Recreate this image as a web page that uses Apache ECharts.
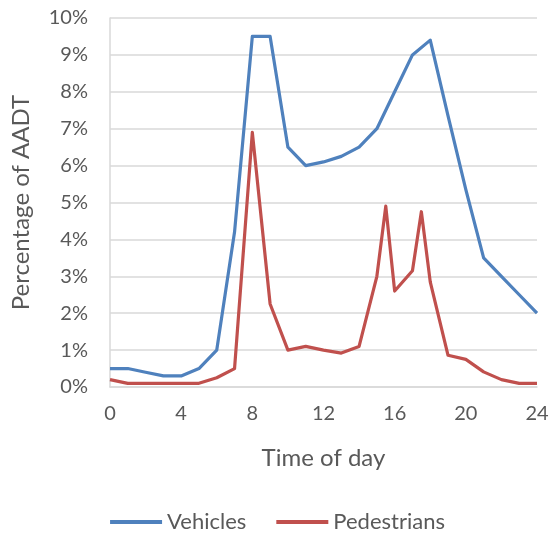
<!DOCTYPE html>
<html>
<head>
<meta charset="utf-8">
<script src="https://cdn.jsdelivr.net/npm/echarts@6/dist/echarts.min.js"></script>
<style>
  html, body { margin: 0; padding: 0; background: #fff; }
  #chart { width: 555px; height: 540px; }
</style>
</head>
<body>
<div id="chart"></div>
<script>
// Hourly share of annual average daily traffic (percent)
const vehicleHours = [0, 1, 2, 3, 4, 5, 6, 7, 8, 9, 10, 11, 12, 13, 14, 15, 16, 17, 18, 19, 20, 21, 22, 23, 24];
const vehicleShare = [0.5, 0.5, 0.4, 0.3, 0.3, 0.5, 1.0, 4.2, 9.5, 9.5, 6.5, 6.0, 6.1, 6.25, 6.5, 7.0, 8.0, 9.0, 9.4, 7.35, 5.35, 3.5, 3.0, 2.5, 2.0];

const pedestrianHours = [0, 1, 2, 3, 4, 5, 6, 7, 8, 9, 10, 11, 12, 13, 14, 15, 15.5, 16, 17, 17.5, 18, 19, 20, 21, 22, 23, 24];
const pedestrianShare = [0.2, 0.1, 0.1, 0.1, 0.1, 0.1, 0.25, 0.5, 6.9, 2.25, 1.0, 1.1, 1.0, 0.92, 1.1, 3.0, 4.9, 2.6, 3.15, 4.75, 2.85, 0.86, 0.75, 0.41, 0.2, 0.1, 0.1];

const xTicks = [0, 4, 8, 12, 16, 20, 24];

const pairs = (xs, ys) => xs.map((x, i) => [x, ys[i]]);

const font = 'Lato, "Liberation Sans", sans-serif';
const textColor = '#595959';
const gridColor = '#D9D9D9';

const chart = echarts.init(document.getElementById('chart'), null, { renderer: 'canvas' });
chart.setOption({
  animation: false,
  backgroundColor: '#ffffff',
  grid: { left: 110, right: 18, top: 18, bottom: 153, containLabel: false },
  legend: {
    bottom: 2,
    left: 'center',
    itemWidth: 52,
    itemHeight: 4,
    itemGap: 30,
    icon: 'rect',
    textStyle: { fontFamily: font, fontSize: 22, color: textColor },
    data: ['Vehicles', 'Pedestrians']
  },
  xAxis: {
    type: 'value',
    min: 0,
    max: 24,
    interval: 4,
    name: 'Time of day',
    nameLocation: 'middle',
    nameGap: 59,
    nameTextStyle: { fontFamily: font, fontSize: 24, color: textColor },
    axisLine: { show: true, onZero: false, lineStyle: { color: gridColor, width: 1.5 } },
    axisTick: { show: false },
    splitLine: { show: false },
    axisLabel: {
      fontFamily: font, fontSize: 20, color: textColor, margin: 17,
      customValues: xTicks
    }
  },
  yAxis: {
    type: 'value',
    min: 0,
    max: 10,
    interval: 1,
    name: 'Percentage of AADT',
    nameLocation: 'middle',
    nameGap: 77,
    nameTextStyle: { fontFamily: font, fontSize: 24, color: textColor },
    axisLine: { show: true, lineStyle: { color: gridColor, width: 1.5 } },
    axisTick: { show: false },
    splitLine: { show: true, lineStyle: { color: gridColor, width: 1.5 } },
    axisLabel: {
      fontFamily: font, fontSize: 20, color: textColor, margin: 22,
      formatter: '{value}%'
    }
  },
  series: [
    {
      name: 'Vehicles',
      type: 'line',
      data: pairs(vehicleHours, vehicleShare),
      showSymbol: false,
      symbol: 'none',
      itemStyle: { color: '#4F81BD' },
      lineStyle: { color: '#4F81BD', width: 3.2, join: 'round' }
    },
    {
      name: 'Pedestrians',
      type: 'line',
      data: pairs(pedestrianHours, pedestrianShare),
      showSymbol: false,
      symbol: 'none',
      itemStyle: { color: '#C0504D' },
      lineStyle: { color: '#C0504D', width: 3.2, join: 'round' }
    }
  ]
});
</script>
</body>
</html>
